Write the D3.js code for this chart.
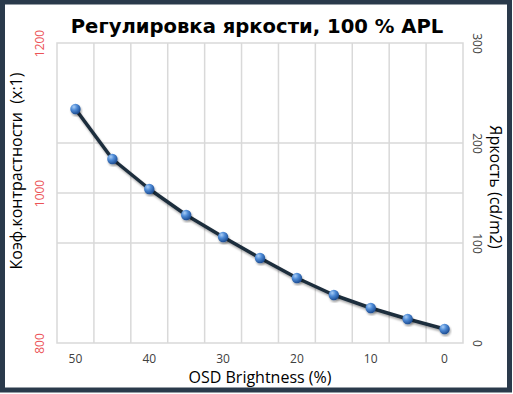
<!DOCTYPE html>
<html>
<head>
<meta charset="utf-8">
<script src="https://cdn.jsdelivr.net/npm/d3@7"></script>
<style>
  body { margin: 0; background: #fff; }
  svg { display: block; }
  .tick text { font-family: "Open Sans", "Noto Sans", sans-serif; }
</style>
</head>
<body>
<div id="chart"></div>
<script>
// OSD brightness setting (%), left to right
const brightnessSteps = [50, 45, 40, 35, 30, 25, 20, 15, 10, 5, 0];
// measured luminance, cd/m2 (right axis)
const luminance = [234, 184, 154, 128, 106, 85, 65, 48, 35, 24, 14];
const xTickLabels = [50, 40, 30, 20, 10, 0];
const contrastTicks = [800, 1000, 1200];
const luminanceTicks = [0, 100, 200, 300];

const W = 513, H = 394;
const margin = { top: 43, right: 50, bottom: 51, left: 57 };
const width = W - margin.left - margin.right;
const height = H - margin.top - margin.bottom;

const root = d3.select('#chart').append('svg')
  .attr('width', W).attr('height', H);

const defs = root.append('defs');
const grad = defs.append('radialGradient')
  .attr('id', 'ball').attr('cx', '35%').attr('cy', '30%').attr('r', '70%');
grad.append('stop').attr('offset', '0%').attr('stop-color', '#a9cdf5');
grad.append('stop').attr('offset', '45%').attr('stop-color', '#4d8ad6');
grad.append('stop').attr('offset', '100%').attr('stop-color', '#1f4f94');
const shadow = defs.append('filter').attr('id', 'shadow')
  .attr('x', '-20%').attr('y', '-20%').attr('width', '140%').attr('height', '140%');
shadow.append('feDropShadow').attr('dx', 1).attr('dy', 2).attr('stdDeviation', 1.2)
  .attr('flood-color', '#000').attr('flood-opacity', 0.35);

// outer frame
root.append('rect').attr('x', 2.5).attr('y', 2).attr('width', W - 6).attr('height', H - 6)
  .attr('fill', '#fff').attr('stroke', '#2a3a4b').attr('stroke-width', 5);

const svg = root.append('g')
  .attr('transform', `translate(${margin.left},${margin.top})`);

const x = d3.scaleBand().domain(brightnessSteps).range([0, width]).padding(0);
const yLeft = d3.scaleLinear().domain([800, 1200]).range([height, 0]);
const yRight = d3.scaleLinear().domain([0, 300]).range([height, 0]);

const gridColor = '#d9d9d9';

// vertical grid at category boundaries
svg.append('g').selectAll('line')
  .data(brightnessSteps.slice(1))
  .enter().append('line')
  .attr('x1', d => x(d)).attr('x2', d => x(d))
  .attr('y1', 0).attr('y2', height)
  .attr('stroke', gridColor).attr('stroke-width', 1.5);

// horizontal grid from both axes
svg.append('g').selectAll('line')
  .data(luminanceTicks.slice(1, -1))
  .enter().append('line')
  .attr('x1', 0).attr('x2', width)
  .attr('y1', d => yRight(d)).attr('y2', d => yRight(d))
  .attr('stroke', gridColor).attr('stroke-width', 1.5);
svg.append('g').selectAll('line')
  .data(contrastTicks.slice(1, -1))
  .enter().append('line')
  .attr('x1', 0).attr('x2', width)
  .attr('y1', d => yLeft(d)).attr('y2', d => yLeft(d))
  .attr('stroke', gridColor).attr('stroke-width', 1.5);

svg.append('rect').attr('width', width).attr('height', height)
  .attr('fill', 'none').attr('stroke', gridColor).attr('stroke-width', 1.5);

// x axis labels
const xAxis = svg.append('g')
  .attr('transform', `translate(0,${height})`)
  .call(d3.axisBottom(x).tickValues(xTickLabels).tickSize(0).tickPadding(11));
xAxis.select('.domain').remove();
xAxis.selectAll('text').attr('font-size', 12).attr('fill', '#404040');

// left axis (red, rotated)
const leftAxis = svg.append('g')
  .call(d3.axisLeft(yLeft).tickValues(contrastTicks).tickFormat(d3.format('d')).tickSize(0));
leftAxis.select('.domain').remove();
leftAxis.selectAll('text')
  .attr('x', null).attr('dy', null)
  .attr('transform', 'translate(-18,0) rotate(-90)')
  .attr('text-anchor', 'middle').attr('dominant-baseline', 'central')
  .attr('font-size', 12).attr('fill', '#ec5357');

// right axis (rotated the other way)
const rightAxis = svg.append('g')
  .attr('transform', `translate(${width},0)`)
  .call(d3.axisRight(yRight).tickValues(luminanceTicks).tickSize(0));
rightAxis.select('.domain').remove();
rightAxis.selectAll('text')
  .attr('x', null).attr('dy', null)
  .attr('transform', 'translate(14,0) rotate(90)')
  .attr('text-anchor', 'middle').attr('dominant-baseline', 'central')
  .attr('font-size', 12).attr('fill', '#404040');

// series
const pts = brightnessSteps.map((s, i) => ({ s, v: luminance[i] }));
const cx = d => x(d.s) + x.bandwidth() / 2;

svg.append('path')
  .datum(pts)
  .attr('d', d3.line().x(cx).y(d => yRight(d.v)))
  .attr('fill', 'none')
  .attr('stroke', '#1e2d3c')
  .attr('stroke-width', 3.5)
  .attr('stroke-linejoin', 'round')
  .attr('filter', 'url(#shadow)');

svg.selectAll('.pt')
  .data(pts)
  .enter().append('circle')
  .attr('class', 'pt')
  .attr('cx', cx)
  .attr('cy', d => yRight(d.v))
  .attr('r', 5.2)
  .attr('fill', 'url(#ball)')
  .attr('filter', 'url(#shadow)');

// titles
root.append('text')
  .attr('x', 257).attr('y', 33)
  .attr('text-anchor', 'middle')
  .attr('font-family', '"DejaVu Sans", Verdana, sans-serif')
  .attr('font-weight', 'bold').attr('font-size', 19.6)
  .attr('fill', '#000')
  .text('Регулировка яркости, 100 % APL');

root.append('text')
  .attr('x', margin.left + width / 2).attr('y', 383)
  .attr('text-anchor', 'middle')
  .attr('font-family', '"Open Sans", "Noto Sans", sans-serif')
  .attr('font-size', 16).attr('fill', '#000')
  .text('OSD Brightness (%)');

root.append('text')
  .attr('transform', `translate(16,${margin.top + height / 2 - 22}) rotate(-90)`)
  .attr('text-anchor', 'middle').attr('dominant-baseline', 'central')
  .attr('font-family', '"Open Sans", "Noto Sans", sans-serif')
  .attr('font-size', 16).attr('fill', '#000')
  .style('white-space', 'pre')
  .text('Коэф.контрастности  (x:1)');

root.append('text')
  .attr('transform', `translate(496,${margin.top + height / 2 - 6}) rotate(90)`)
  .attr('text-anchor', 'middle').attr('dominant-baseline', 'central')
  .attr('font-family', '"Open Sans", "Noto Sans", sans-serif')
  .attr('font-size', 16).attr('fill', '#000')
  .text('Яркость (cd/m2)');
</script>
</body>
</html>
